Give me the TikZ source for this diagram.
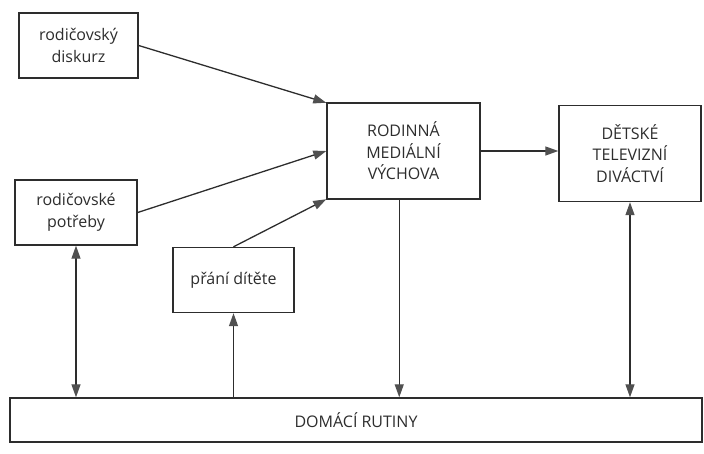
\documentclass[tikz,border=0pt]{standalone}
\usepackage{fontspec}
\setmainfont{Open Sans}
\usepackage{tikz}
\usetikzlibrary{positioning, arrows.meta, calc}
\definecolor{inkgray}{RGB}{45, 45, 45}
\definecolor{tipgray}{RGB}{80, 80, 80}
\tikzset{
  factor/.style={
    draw=inkgray,
    line width=1.4pt,
    fill=white,
    align=center,
    inner sep=2pt,
    font=\fontsize{16}{21.5}\selectfont\color{inkgray}
  },
  link/.style={
    -{Triangle[length=13pt, width=9pt, color=tipgray]},
    line width=1.3pt,
    draw=inkgray
  },
  twolink/.style={
    {Triangle[length=13pt, width=9pt, color=tipgray]}-{Triangle[length=13pt, width=9pt, color=tipgray]},
    line width=1.3pt,
    draw=inkgray
  }
}

\begin{document}
\begin{tikzpicture}[x=1pt, y=-1pt]
  \useasboundingbox (0,0) rectangle (704,453);

  \node[factor, minimum width=119pt, minimum height=65pt] (diskurz) at (78.5,45.5) {rodičovský\\diskurz};
  \node[factor, minimum width=122pt, minimum height=65pt] (potreby) at (76,212.5) {rodičovské\\potřeby};
  \node[factor, minimum width=121pt, minimum height=65pt] (prani) at (233.5,280) {přání dítěte};
  \node[factor, minimum width=153pt, minimum height=96pt] (vychova) at (403.5,151) {RODINNÁ\\MEDIÁLNÍ\\VÝCHOVA};
  \node[factor, minimum width=142pt, minimum height=96pt] (divactvi) at (630,153.5) {DĚTSKÉ\\TELEVIZNÍ\\DIVÁCTVÍ};
  \node[factor, minimum width=692pt, minimum height=44pt] (rutiny) at (356,420) {DOMÁCÍ RUTINY};

  % Arrows into the centre box
  \draw[link] (diskurz.east) -- (vychova.148);
  \draw[link] (potreby.east) -- (vychova.west);
  \draw[link] (prani.north) -- (vychova.212);
  \draw[link] (vychova.east) -- (vychova.east -| divactvi.west);

  % Links to the routines
  \draw[link] (vychova.265) -- (vychova.265 |- rutiny.north);
  \draw[link] (prani.south |- rutiny.north) -- (prani.south);
  \draw[twolink] (potreby.south) -- (potreby.south |- rutiny.north);
  \draw[twolink] (divactvi.south) -- (divactvi.south |- rutiny.north);
\end{tikzpicture}
\end{document}
